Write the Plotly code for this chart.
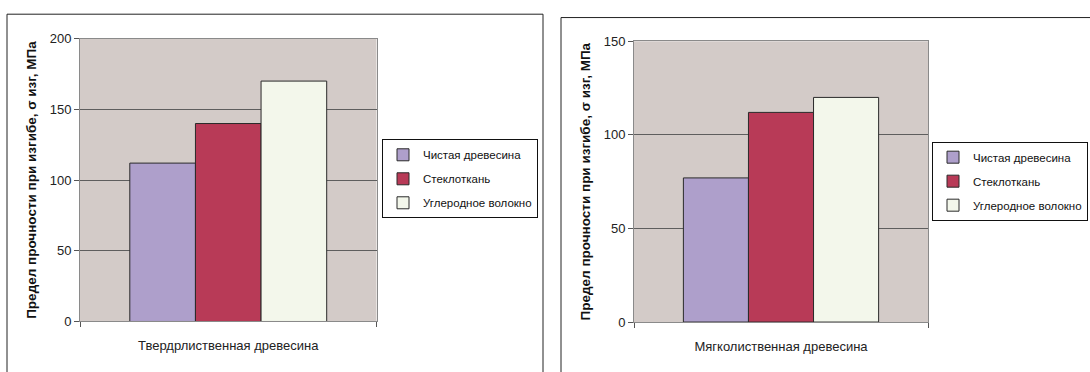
import plotly.graph_objects as go

# Flexural strength (MPa) of wood samples, plain and reinforced
series_names = ["Чистая древесина", "Стеклоткань", "Углеродное волокно"]
series_colors = ["#AE9FCB", "#B83A57", "#F3F7EB"]

hardwood_category = ["Твердрлиственная древесина"]
hardwood_values = [112, 140, 170]

softwood_category = ["Мягколиственная древесина"]
softwood_values = [77, 112, 120]

y_title = "<b>Предел прочности при изгибе, σ изг, МПа</b>"
hardwood_ticks = [0, 50, 100, 150, 200]
softwood_ticks = [0, 50, 100, 150]

W, H = 1090, 372
FONT = "Liberation Sans, Arial, sans-serif"

fig = go.Figure()

for i, name in enumerate(series_names):
    fig.add_trace(go.Bar(
        x=hardwood_category, y=[hardwood_values[i]], name=name,
        marker=dict(color=series_colors[i], line=dict(color="#2a2a2a", width=1)),
        xaxis="x", yaxis="y", legend="legend", legendgroup=f"a{i}",
        hoverinfo="skip",
    ))
for i, name in enumerate(series_names):
    fig.add_trace(go.Bar(
        x=softwood_category, y=[softwood_values[i]], name=name,
        marker=dict(color=series_colors[i], line=dict(color="#2a2a2a", width=1)),
        xaxis="x2", yaxis="y2", legend="legend2", legendgroup=f"b{i}",
        hoverinfo="skip",
    ))

def px_x(v):
    return v / W

def px_y(v):
    return 1 - v / H

axis_common = dict(
    showline=True, linecolor="#8a8a8a", linewidth=1, mirror=True,
    tickfont=dict(family=FONT, size=13, color="#222"),
)

xaxis_common = dict(
    axis_common, type="category", ticks="outside", tickson="boundaries",
    ticklen=5, tickcolor="#555", showgrid=False, fixedrange=True,
    ticklabelstandoff=12,
)

yaxis_common = dict(
    axis_common, ticks="outside", ticklen=5, tickcolor="#555",
    showgrid=True, gridcolor="#5e5e5e", gridwidth=1, zeroline=False,
    title=dict(text=y_title, font=dict(family=FONT, size=13.5, color="#111"), standoff=9),
)

legend_common = dict(
    xanchor="right", yanchor="middle",
    bgcolor="white", bordercolor="#111", borderwidth=1,
    font=dict(family=FONT, size=11.5, color="#111"),
    tracegroupgap=5, traceorder="grouped",
)

fig.update_layout(
    width=W, height=H,
    margin=dict(l=0, r=0, t=0, b=0),
    paper_bgcolor="white",
    plot_bgcolor="#D3CBC8",
    barmode="group", bargap=0.336, bargroupgap=0,
    font=dict(family=FONT, size=12, color="#222"),
    xaxis=dict(xaxis_common, domain=[px_x(80), px_x(376.5)], anchor="y"),
    yaxis=dict(yaxis_common, domain=[px_y(327.7), px_y(33)], anchor="x",
               range=[0, 200], tickvals=hardwood_ticks),
    xaxis2=dict(xaxis_common, domain=[px_x(634), px_x(928)], anchor="y2"),
    yaxis2=dict(yaxis_common, domain=[px_y(328.3), px_y(35.7)], anchor="x2",
                range=[0, 150], tickvals=softwood_ticks),
    legend=dict(legend_common, x=px_x(538), y=px_y(179)),
    legend2=dict(legend_common, x=px_x(1088), y=px_y(181.5)),
    shapes=[
        dict(type="rect", xref="paper", yref="paper",
             x0=px_x(7), x1=px_x(543), y0=-0.05, y1=px_y(7.5),
             line=dict(color="#222", width=1), fillcolor="rgba(0,0,0,0)", layer="below"),
        dict(type="rect", xref="paper", yref="paper",
             x0=px_x(561), x1=1.05, y0=-0.05, y1=px_y(11),
             line=dict(color="#222", width=1), fillcolor="rgba(0,0,0,0)", layer="below"),
    ],
)

fig.write_html("out.html", config=dict(displayModeBar=False))
